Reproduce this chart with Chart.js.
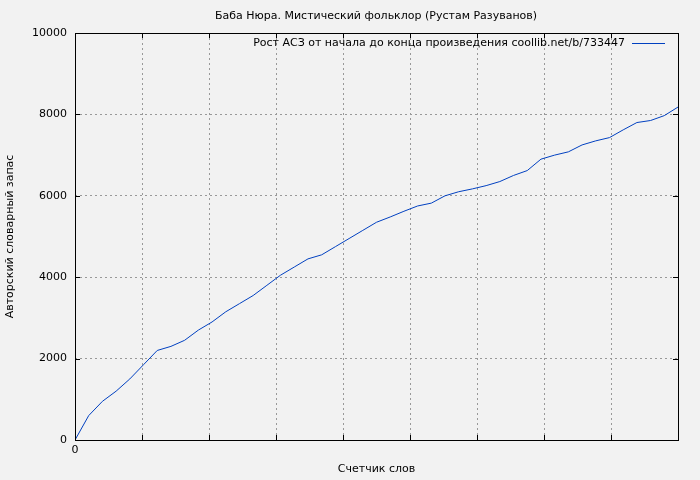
<!DOCTYPE html>
<html><head><meta charset="utf-8">
<script src="https://cdn.jsdelivr.net/npm/chart.js@4"></script>
<style>body{margin:0;background:#f2f2f2}#w{width:700px;height:480px}</style>
</head><body><div id="w"><canvas id="c"></canvas></div>
<script>
const words=[0,1000,2000,3000,4000,5000,6000,7000,8000,9000,10000,11000,12000,13000,14000,15000,16000,17000,18000,19000,20000,21000,22000,23000,24000,25000,26000,27000,28000,29000,30000,31000,32000,33000,34000,35000,36000,37000,38000,39000,40000,41000,42000,43000,44000];
const vocab=[0,600,950,1200,1500,1850,2200,2300,2450,2700,2900,3150,3350,3550,3800,4050,4250,4450,4550,4750,4950,5150,5350,5480,5620,5750,5820,6000,6100,6170,6250,6350,6500,6620,6900,7000,7080,7250,7350,7430,7620,7800,7850,7970,8180];
const title='Баба Нюра. Мистический фольклор (Рустам Разуванов)';
const legendLabel='Рост АСЗ от начала до конца произведения coollib.net/b/733447';
const xTitle='Счетчик слов', yTitle='Авторский словарный запас';
const F='"DejaVu Sans", sans-serif';
const deco={id:'deco',afterDraw(ch){const c=ch.ctx,a=ch.chartArea;c.save();
c.strokeStyle='#000';c.lineWidth=1;c.strokeRect(Math.round(a.left)+.5,Math.round(a.top)+.5,Math.round(a.right-a.left),Math.round(a.bottom-a.top));
c.fillStyle='#000';c.font='11px '+F;c.textAlign='center';c.textBaseline='middle';c.fillText(title,376,16);
c.textAlign='right';c.fillText(legendLabel,625,43);
c.strokeStyle='#0040c0';c.beginPath();c.moveTo(632,43.5);c.lineTo(665,43.5);c.stroke();
c.strokeStyle='#000';const xs=ch.scales.x,ys=ch.scales.y;
xs.ticks.forEach(t=>{const p=Math.round(xs.getPixelForValue(t.value))+.5;c.beginPath();c.moveTo(p,a.bottom);c.lineTo(p,a.bottom-5);c.moveTo(p,a.top);c.lineTo(p,a.top+5);c.stroke();});
ys.ticks.forEach(t=>{const p=Math.round(ys.getPixelForValue(t.value))+.5;c.beginPath();c.moveTo(a.left,p);c.lineTo(a.left+5,p);c.moveTo(a.right,p);c.lineTo(a.right-5,p);c.stroke();});
c.restore();}};
new Chart(document.getElementById('c'),{type:'line',
data:{datasets:[{data:words.map((w,i)=>({x:w,y:vocab[i]})),borderColor:'#0040c0',borderWidth:1,pointRadius:0,tension:0}]},
options:{responsive:true,maintainAspectRatio:false,animation:false,
layout:{padding:{top:33,right:22,left:0,bottom:0}},
plugins:{legend:{display:false},title:{display:false},tooltip:{enabled:false}},
scales:{
x:{type:'linear',min:0,max:44000,ticks:{stepSize:5000,autoSkip:false,color:'#000',font:{family:F,size:11},maxRotation:0,padding:4,
callback:v=>(v%5000===0?String(v):'')},
afterFit:s=>{s.height=40;},
grid:{color:'#999',drawTicks:false},border:{display:false,dash:[2,3]},
title:{display:true,text:xTitle,color:'#000',font:{family:F,size:11},padding:{top:2}}},
y:{min:0,max:10000,ticks:{stepSize:2000,color:'#000',font:{family:F,size:11},padding:8,callback:v=>String(v)},
afterFit:s=>{s.width=75;},
grid:{color:'#999',drawTicks:false},border:{display:false,dash:[2,3]},
title:{display:true,text:yTitle,color:'#000',font:{family:F,size:11}}}}},
plugins:[deco]});
</script></body></html>
